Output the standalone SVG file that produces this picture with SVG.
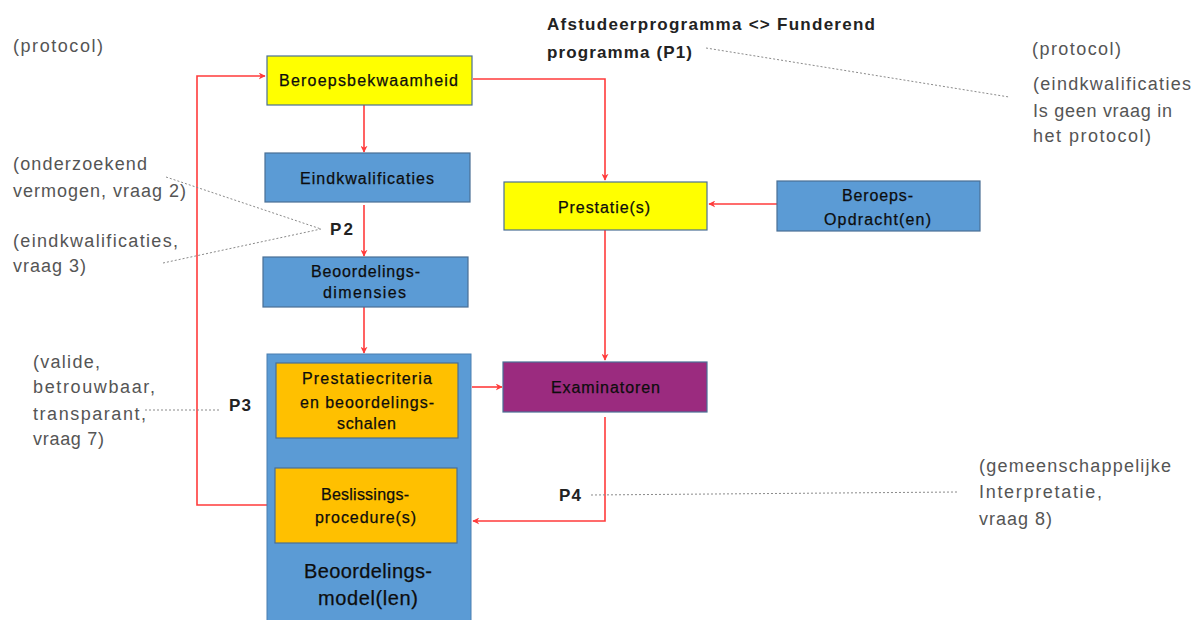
<svg xmlns="http://www.w3.org/2000/svg" width="1201" height="620" viewBox="0 0 1201 620">
<defs>
<marker id="arr" viewBox="0 0 10 10" refX="9" refY="5" markerWidth="7" markerHeight="7" orient="auto" markerUnits="userSpaceOnUse">
<path d="M0,0 L10,5 L0,10 L3,5 Z" fill="#ff3b3b"/>
</marker>
</defs>
<style>
.box{stroke:#4a6f95;stroke-width:1.2}
.yel{fill:#ffff00}
.blu{fill:#5b9bd5}
.org{fill:#ffc000}
.pur{fill:#9b2b7f}
.nt{font-family:"Liberation Sans",Arial,sans-serif;font-size:16px;fill:#0d0d0d;stroke:#0d0d0d;stroke-width:0.25}
.gt{font-family:"Liberation Sans",Arial,sans-serif;font-size:18px;fill:#555}
.bt{font-family:"Liberation Sans",Arial,sans-serif;font-size:17px;font-weight:bold;fill:#222}
.con{fill:none;stroke:#ff3b3b;stroke-width:1.6}
.dot{fill:none;stroke:#8a8a8a;stroke-width:1;stroke-dasharray:2,2}
</style>
<rect width="1201" height="620" fill="#ffffff"/>

<g id="connectors">
<path class="con" d="M473,79 H605 V180" marker-end="url(#arr)"/>
<path class="con" d="M364,105 V152" marker-end="url(#arr)"/>
<path class="con" d="M364,205 V256" marker-end="url(#arr)"/>
<path class="con" d="M364,307 V353" marker-end="url(#arr)"/>
<path class="con" d="M777,204 H709" marker-end="url(#arr)"/>
<path class="con" d="M605,230 V360" marker-end="url(#arr)"/>
<path class="con" d="M472,387 H502" marker-end="url(#arr)"/>
<path class="con" d="M605,417 V521 H473" marker-end="url(#arr)"/>
<path class="con" d="M267,505 H197 V76 H265" marker-end="url(#arr)"/>
</g>

<g id="annotations">
<line class="dot" x1="706" y1="48" x2="1009" y2="97"/>
<line class="dot" x1="166" y1="177" x2="321" y2="229"/>
<line class="dot" x1="163" y1="263" x2="321" y2="229"/>
<line class="dot" x1="145" y1="410" x2="221" y2="410"/>
<line class="dot" x1="591" y1="495" x2="958" y2="492"/>
<text class="gt" x="13" y="52" textLength="90">(protocol)</text>
<text class="bt" x="547" y="30" textLength="328">Afstudeerprogramma &lt;&gt; Funderend</text>
<text class="bt" x="547" y="58" textLength="145">programma (P1)</text>
<text class="gt" x="1032" y="55" textLength="89">(protocol)</text>
<text class="gt" x="1033" y="90" textLength="158">(eindkwalificaties</text>
<text class="gt" x="1033" y="117" textLength="139">Is geen vraag in</text>
<text class="gt" x="1033" y="142" textLength="118">het protocol)</text>
<text class="gt" x="13" y="170" textLength="134">(onderzoekend</text>
<text class="gt" x="13" y="197" textLength="173">vermogen, vraag 2)</text>
<text class="gt" x="13" y="247" textLength="165">(eindkwalificaties,</text>
<text class="gt" x="13" y="272" textLength="73">vraag 3)</text>
<text class="bt" x="330" y="235" textLength="23">P2</text>
<text class="gt" x="33" y="368" textLength="67">(valide,</text>
<text class="gt" x="33" y="393" textLength="122">betrouwbaar,</text>
<text class="gt" x="33" y="420" textLength="113">transparant,</text>
<text class="gt" x="33" y="445" textLength="71">vraag 7)</text>
<text class="bt" x="229" y="411" textLength="22">P3</text>
<text class="bt" x="559" y="501" textLength="22">P4</text>
<text class="gt" x="979" y="472" textLength="192">(gemeenschappelijke</text>
<text class="gt" x="979" y="498" textLength="123">Interpretatie,</text>
<text class="gt" x="979" y="525" textLength="73">vraag 8)</text>
</g>

<g id="node-beroepsbekwaamheid">
<rect class="box yel" x="267" y="56" width="205" height="49"/>
<text class="nt" x="279" y="86" textLength="179">Beroepsbekwaamheid</text>
</g>
<g id="node-eindkwalificaties">
<rect class="box blu" x="265" y="153" width="205" height="49"/>
<text class="nt" x="300" y="184" textLength="134">Eindkwalificaties</text>
</g>
<g id="node-beoordelingsdimensies">
<rect class="box blu" x="263" y="257" width="205" height="50"/>
<text class="nt" x="311" y="277" textLength="109">Beoordelings-</text>
<text class="nt" x="323" y="298" textLength="83">dimensies</text>
</g>
<g id="node-beoordelingsmodel">
<rect x="267" y="354" width="204" height="280" fill="#5b9bd5" stroke="#4a7fb0" stroke-width="1"/>
<text class="nt" x="304" y="578" textLength="128" style="font-size:20px">Beoordelings-</text>
<text class="nt" x="318" y="605" textLength="100" style="font-size:20px">model(len)</text>
</g>
<g id="node-prestatiecriteria">
<rect class="box org" x="276" y="363" width="182" height="75"/>
<text class="nt" x="302" y="384" textLength="130">Prestatiecriteria</text>
<text class="nt" x="300" y="408" textLength="134">en beoordelings-</text>
<text class="nt" x="337" y="429" textLength="59">schalen</text>
</g>
<g id="node-beslissingsprocedure">
<rect class="box org" x="275" y="468" width="182" height="75"/>
<text class="nt" x="321" y="500" textLength="88">Beslissings-</text>
<text class="nt" x="315" y="523" textLength="101">procedure(s)</text>
</g>
<g id="node-prestaties">
<rect class="box yel" x="504" y="182" width="203" height="48"/>
<text class="nt" x="558" y="213" textLength="92">Prestatie(s)</text>
</g>
<g id="node-beroepsopdracht">
<rect class="box blu" x="777" y="181" width="203" height="50"/>
<text class="nt" x="842" y="201" textLength="71">Beroeps-</text>
<text class="nt" x="824" y="225" textLength="107">Opdracht(en)</text>
</g>
<g id="node-examinatoren">
<rect class="box pur" x="503" y="362" width="204" height="50"/>
<text class="nt" x="551" y="393" textLength="109">Examinatoren</text>
</g>
</svg>
